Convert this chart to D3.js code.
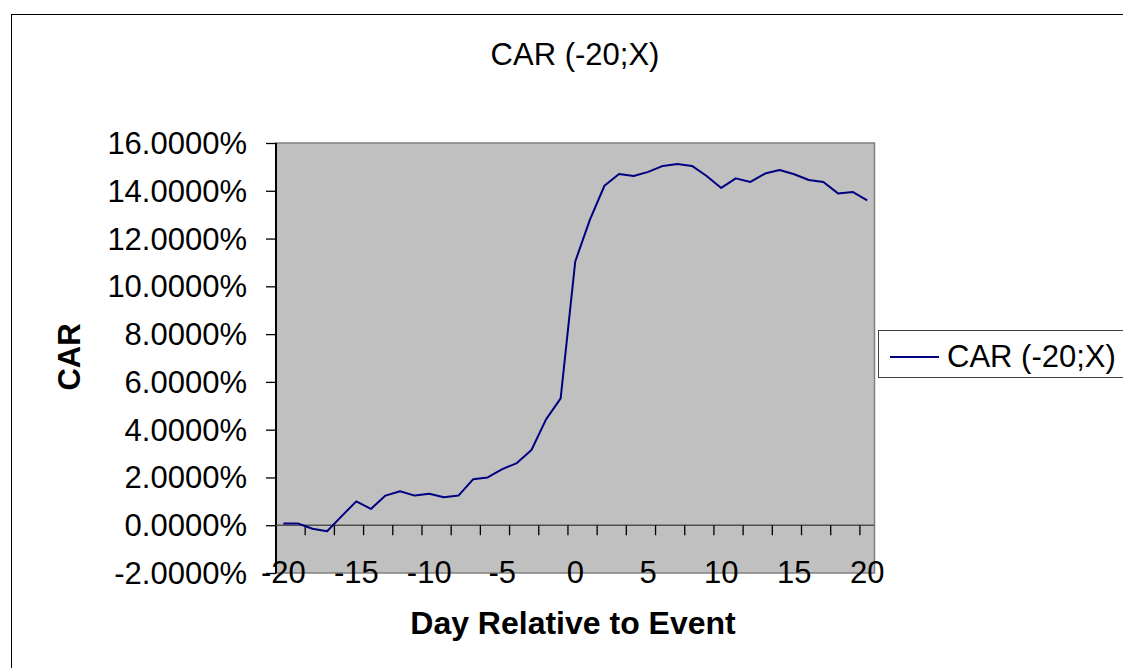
<!DOCTYPE html>
<html><head>
<meta charset="utf-8">
<script src="https://d3js.org/d3.v7.min.js"></script>
<title>CAR (-20;X)</title>
<style>
body{ margin:0; background:#fff; }
text{ font-family: "Liberation Sans", Arial, sans-serif; fill:#000; }
</style>
</head>
<body>
<script>
// jours relatifs a l'evenement
const days = d3.range(-20, 21);
// CAR cumule (en fraction)
const car = [0.0007, 0.0007, -0.0015, -0.0025, 0.0038, 0.0100, 0.0068, 0.0124, 0.0142, 0.0124,
             0.0132, 0.0117, 0.0124, 0.0192, 0.0200, 0.0235, 0.0260, 0.0315, 0.0443, 0.0531,
             0.1104, 0.1278, 0.1421, 0.1470, 0.1462, 0.1479, 0.1504, 0.1512, 0.1504, 0.1462,
             0.1412, 0.1452, 0.1437, 0.1472, 0.1487, 0.1469, 0.1445, 0.1437, 0.1389, 0.1395,
             0.1360];
const yTicks = [-0.02, 0, 0.02, 0.04, 0.06, 0.08, 0.10, 0.12, 0.14, 0.16];
const xLabels = [-20, -15, -10, -5, 0, 5, 10, 15, 20];
const serie = "CAR (-20;X)";

const W = 1123, H = 668;
const plot = {left: 276, top: 143, right: 874.5, bottom: 573};
const fs = 31;

let svg = d3.select("body").append("svg")
    .attr("width", W).attr("height", H);

// cadre du graphique
svg.append("rect")
    .attr("x", 11.5).attr("y", 14.5)
    .attr("width", 1130).attr("height", 700)
    .attr("fill", "#fff").attr("stroke", "#000").attr("stroke-width", 1);

const Ech_x = d3.scaleBand()
    .domain(days)
    .range([plot.left, plot.right])
    .padding(0);

const Ech_y = d3.scaleLinear()
    .domain([-0.02, 0.16])
    .range([plot.bottom, plot.top]);

// zone de trace
svg.append("rect")
    .attr("x", plot.left).attr("y", plot.top)
    .attr("width", plot.right - plot.left).attr("height", plot.bottom - plot.top)
    .attr("fill", "#c0c0c0").attr("stroke", "#808080").attr("stroke-width", 1.5);

// axe vertical
const fmt = d3.format(".4%");
let axeVertical = svg.append("g")
    .attr("transform", "translate(" + plot.left + ",0)")
    .call(d3.axisLeft(Ech_y).tickValues(yTicks).tickSize(10).tickPadding(19)
          .tickFormat(d => fmt(d).replace("\u2212", "-")));
axeVertical.select(".domain").remove();
axeVertical.selectAll("line").attr("stroke", "#000").attr("stroke-width", 1.3);
axeVertical.selectAll("text")
    .attr("font-family", "Liberation Sans, Arial, sans-serif")
    .attr("font-size", fs)
    .attr("dy", "0.34em");

svg.append("line")
    .attr("x1", plot.left).attr("x2", plot.left)
    .attr("y1", plot.top).attr("y2", plot.bottom)
    .attr("stroke", "#000").attr("stroke-width", 2);

// axe horizontal a 0
const y0 = Ech_y(0);
svg.append("line")
    .attr("x1", plot.left).attr("x2", plot.right)
    .attr("y1", y0).attr("y2", y0)
    .attr("stroke", "#505050").attr("stroke-width", 1.5);

// graduations toutes les 2 categories
const bornes = d3.range(2, days.length, 2);
svg.append("g").selectAll("line")
    .data(bornes)
    .enter().append("line")
    .attr("x1", k => plot.left + k * Ech_x.bandwidth())
    .attr("x2", k => plot.left + k * Ech_x.bandwidth())
    .attr("y1", y0).attr("y2", y0 + 10)
    .attr("stroke", "#000").attr("stroke-width", 1.3);

svg.append("g").selectAll("text")
    .data(xLabels)
    .enter().append("text")
    .attr("x", d => Ech_x(d) + Ech_x.bandwidth() / 2)
    .attr("y", 583)
    .attr("text-anchor", "middle")
    .attr("font-size", fs)
    .text(d => d);

// courbe
const ligne = d3.line()
    .x((d, i) => Ech_x(days[i]) + Ech_x.bandwidth() / 2)
    .y(d => Ech_y(d));

svg.append("path")
    .datum(car)
    .attr("d", ligne)
    .attr("fill", "none")
    .attr("stroke", "#000080")
    .attr("stroke-width", 2)
    .attr("stroke-linejoin", "round");

// titres
svg.append("text")
    .attr("x", 575).attr("y", 65)
    .attr("text-anchor", "middle")
    .attr("font-size", fs)
    .text(serie);

svg.append("text")
    .attr("x", 573).attr("y", 634)
    .attr("text-anchor", "middle")
    .attr("font-size", 32)
    .attr("font-weight", "bold")
    .text("Day Relative to Event");

svg.append("text")
    .attr("transform", "translate(80,357) rotate(-90)")
    .attr("text-anchor", "middle")
    .attr("font-size", 31)
    .attr("font-weight", "bold")
    .text("CAR");

// legende
let legende = svg.append("g");
legende.append("rect")
    .attr("x", 878.5).attr("y", 330.5)
    .attr("width", 260).attr("height", 47)
    .attr("fill", "#fff").attr("stroke", "#404040").attr("stroke-width", 1);
legende.append("line")
    .attr("x1", 890).attr("x2", 939)
    .attr("y1", 357).attr("y2", 357)
    .attr("stroke", "#000080").attr("stroke-width", 2);
legende.append("text")
    .attr("x", 947).attr("y", 367)
    .attr("font-size", fs)
    .text(serie);
</script>
</body>
</html>
